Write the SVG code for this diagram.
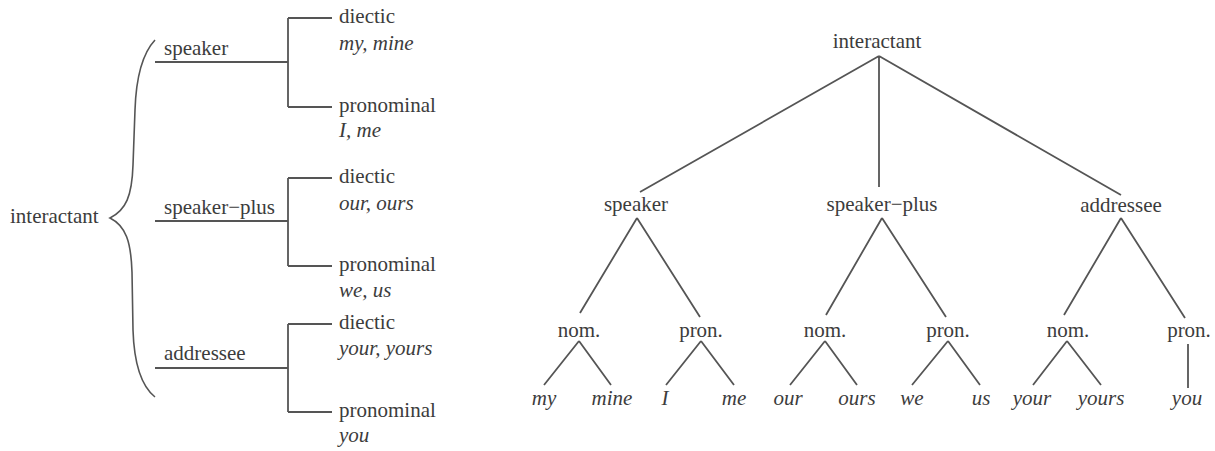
<svg xmlns="http://www.w3.org/2000/svg" width="1215" height="451" viewBox="0 0 1215 451">
  <style>
    text { font-family: 'Liberation Serif', 'DejaVu Serif', serif; font-size: 21px; fill: #3c3c3c; }
    .it { font-style: italic; }
    .c { text-anchor: middle; }
    .ln { stroke: #555; stroke-width: 1.8; fill: none; stroke-linecap: butt; }
    .br { stroke: #555; stroke-width: 1.6; fill: none; }
  </style>
  <rect width="1215" height="451" fill="#ffffff"/>

  <!-- Left: bracket-style system network -->
  <g id="connectors-left">
    <path class="br" d="M155,40 C141,55 136,80 135,110 L133,165 C132,196 126,210 110,218 C126,226 131,242 132,272 L133,330 C134,362 140,385 155,397"/>
    <!-- speaker -->
    <path class="ln" d="M155,62 H288 M288,18 V107 M288,18 H332 M288,107 H332"/>
    <!-- speaker-plus -->
    <path class="ln" d="M155,221 H288 M288,178 V266 M288,178 H332 M288,266 H332"/>
    <!-- addressee -->
    <path class="ln" d="M155,368 H288 M288,324 V412 M288,324 H332 M288,412 H332"/>
  </g>

  <g id="l-interactant"><text x="10" y="223">interactant</text></g>
  <g id="l-speaker"><text x="164" y="55">speaker</text></g>
  <g id="l-speaker-plus"><text x="164" y="214">speaker−plus</text></g>
  <g id="l-addressee"><text x="164" y="360">addressee</text></g>

  <g id="l-sp-diectic"><text x="339" y="23">diectic</text><text class="it" x="339" y="50">my, mine</text></g>
  <g id="l-sp-pronominal"><text x="339" y="112">pronominal</text><text class="it" x="339" y="137">I, me</text></g>
  <g id="l-spp-diectic"><text x="339" y="183">diectic</text><text class="it" x="339" y="210">our, ours</text></g>
  <g id="l-spp-pronominal"><text x="339" y="271">pronominal</text><text class="it" x="339" y="297">we, us</text></g>
  <g id="l-ad-diectic"><text x="339" y="329">diectic</text><text class="it" x="339" y="355">your, yours</text></g>
  <g id="l-ad-pronominal"><text x="339" y="417">pronominal</text><text class="it" x="339" y="442">you</text></g>

  <!-- Right: tree -->
  <g id="connectors-right">
    <path class="ln" d="M879,56 L640,192 M879,56 L879,187 M879,56 L1121,195"/>
    <path class="ln" d="M637,218 L580,313 M637,218 L700,317"/>
    <path class="ln" d="M882,218 L826,315 M882,218 L946,317"/>
    <path class="ln" d="M1121,218 L1064,315 M1121,218 L1185,318"/>
    <path class="ln" d="M579,341 L544,385 M579,341 L611,385"/>
    <path class="ln" d="M701,341 L666,385 M701,341 L734,385"/>
    <path class="ln" d="M825,341 L790,385 M825,341 L857,385"/>
    <path class="ln" d="M948,341 L912,385 M948,341 L980,385"/>
    <path class="ln" d="M1067,341 L1033,385 M1067,341 L1101,385"/>
    <path class="ln" d="M1188,344 L1188,388"/>
  </g>

  <g id="r-interactant"><text class="c" x="877" y="48">interactant</text></g>
  <g id="r-speaker"><text class="c" x="636" y="211">speaker</text></g>
  <g id="r-speaker-plus"><text class="c" x="882" y="211">speaker−plus</text></g>
  <g id="r-addressee"><text class="c" x="1121" y="212">addressee</text></g>

  <g id="r-sp-nom"><text class="c" x="579" y="337">nom.</text></g>
  <g id="r-sp-pron"><text class="c" x="701" y="337">pron.</text></g>
  <g id="r-spp-nom"><text class="c" x="825" y="337">nom.</text></g>
  <g id="r-spp-pron"><text class="c" x="948" y="337">pron.</text></g>
  <g id="r-ad-nom"><text class="c" x="1068" y="337">nom.</text></g>
  <g id="r-ad-pron"><text class="c" x="1189" y="337">pron.</text></g>

  <g id="r-my"><text class="c it" x="544" y="405">my</text></g>
  <g id="r-mine"><text class="c it" x="612" y="405">mine</text></g>
  <g id="r-i"><text class="c it" x="665" y="405">I</text></g>
  <g id="r-me"><text class="c it" x="734" y="405">me</text></g>
  <g id="r-our"><text class="c it" x="788" y="405">our</text></g>
  <g id="r-ours"><text class="c it" x="857" y="405">ours</text></g>
  <g id="r-we"><text class="c it" x="912" y="405">we</text></g>
  <g id="r-us"><text class="c it" x="981" y="405">us</text></g>
  <g id="r-your"><text class="c it" x="1032" y="405">your</text></g>
  <g id="r-yours"><text class="c it" x="1101" y="405">yours</text></g>
  <g id="r-you"><text class="c it" x="1187" y="405">you</text></g>
</svg>
